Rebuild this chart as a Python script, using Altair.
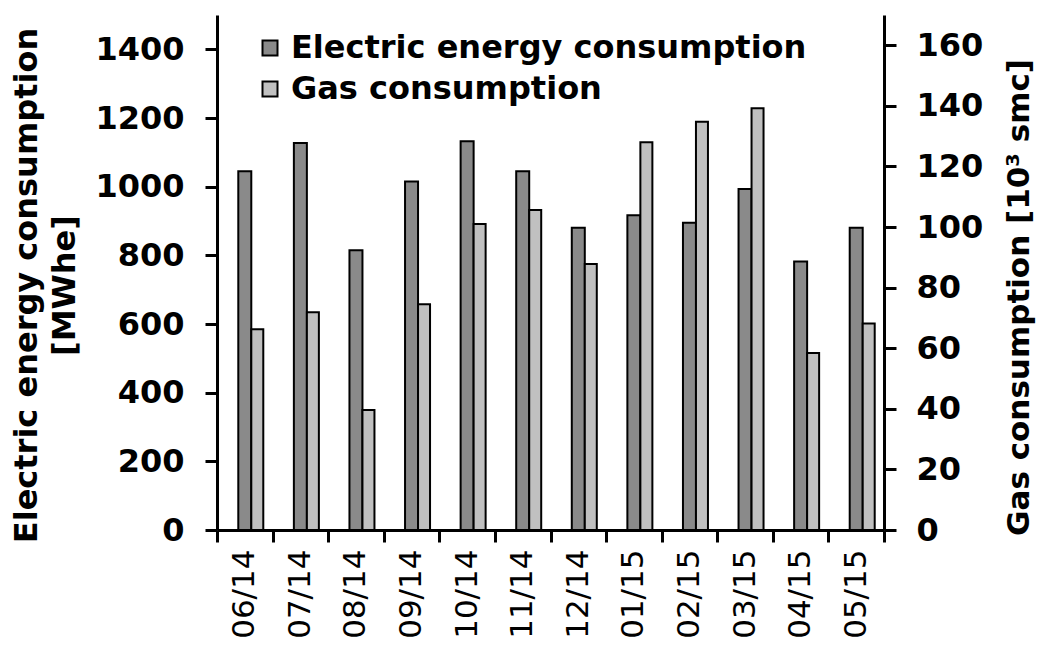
import altair as alt
import pandas as pd

months = ["06/14", "07/14", "08/14", "09/14", "10/14", "11/14",
          "12/14", "01/15", "02/15", "03/15", "04/15", "05/15"]
electric = [1045, 1127, 815, 1015, 1132, 1045, 880, 917, 895, 993, 782, 880]
gas = [66.3, 71.9, 39.6, 74.5, 101.0, 105.6, 87.8, 128.0, 134.8, 139.2, 58.4, 68.2]
series = ["Electric energy consumption", "Gas consumption"]
colors = ["#8a8a8a", "#c0c0c0"]
left_ticks = [0, 200, 400, 600, 800, 1000, 1200, 1400]
right_ticks = [0, 20, 40, 60, 80, 100, 120, 140, 160]

df = pd.DataFrame({"month": months, "electric": electric, "gas": gas})

FONT = "DejaVu Sans"
FS = 32

xenc = alt.X(
    "month:N", sort=months,
    scale=alt.Scale(paddingInner=0, paddingOuter=0),
    axis=alt.Axis(
        title=None, labelAngle=270, labelFont=FONT, labelFontSize=31,
        labelFontWeight="normal", labelColor="black", labelPadding=7,
        tickBand="extent", tickSize=12, tickWidth=3, tickColor="black",
        domainColor="black", domainWidth=3, labelBaseline="middle",
    ),
)

fill = alt.Fill(
    "series:N",
    scale=alt.Scale(domain=series, range=colors),
    legend=alt.Legend(
        title=None, orient="none", legendX=37, legendY=17,
        symbolType="square", symbolSize=225, symbolStrokeColor="black",
        symbolStrokeWidth=2, labelFont=FONT, labelFontSize=FS,
        labelFontWeight="bold", labelColor="black", labelOffset=5,
        rowPadding=9, labelLimit=800,
    ),
)

elec = alt.Chart(df).transform_calculate(
    series="'Electric energy consumption'"
).mark_bar(stroke="black", strokeWidth=2, width=13, xOffset=0).encode(
    x=xenc,
    y=alt.Y(
        "electric:Q",
        scale=alt.Scale(domain=[0, 1500], nice=False, zero=True),
        axis=alt.Axis(
            title=["Electric energy consumption", "[MWhe]"],
            values=left_ticks, format="d", grid=False, orient="left",
            labelFont=FONT, labelFontSize=FS, labelFontWeight="bold",
            labelColor="black", labelPadding=21,
            tickSize=12, tickWidth=3, tickColor="black",
            domainColor="black", domainWidth=3,
            titleFont=FONT, titleFontSize=FS, titleFontWeight="bold",
            titleColor="black", titleLineHeight=38,
            titleX=-191, titleY=270, titleAngle=270,
            titleAlign="center", titleBaseline="middle",
        ),
    ),
    fill=fill,
)

gasb = alt.Chart(df).transform_calculate(
    series="'Gas consumption'"
).mark_bar(stroke="black", strokeWidth=2, width=12, xOffset=12.5).encode(
    x=xenc,
    y=alt.Y(
        "gas:Q",
        scale=alt.Scale(domain=[0, 170], nice=False, zero=True),
        axis=alt.Axis(
            title="Gas consumption [10³ smc]",
            values=right_ticks, format="d", grid=False, orient="right",
            labelFont=FONT, labelFontSize=FS, labelFontWeight="bold",
            labelColor="black", labelPadding=20,
            tickSize=12, tickWidth=3, tickColor="black",
            domainColor="black", domainWidth=3,
            titleFont=FONT, titleFontSize=31, titleFontWeight="bold",
            titleColor="black", titleAngle=270,
            titleX=135, titleY=282,
            titleAlign="center", titleBaseline="middle",
        ),
    ),
    fill=fill,
)

chart = alt.layer(elec, gasb).resolve_scale(y="independent").properties(
    width=667, height=515,
    autosize=alt.AutoSizeParams(type="none"),
    padding={"left": 209, "top": 7, "right": 154, "bottom": 112},
).configure_view(stroke=None)

chart.save("out.html", embed_options={"renderer": "svg", "actions": False})
